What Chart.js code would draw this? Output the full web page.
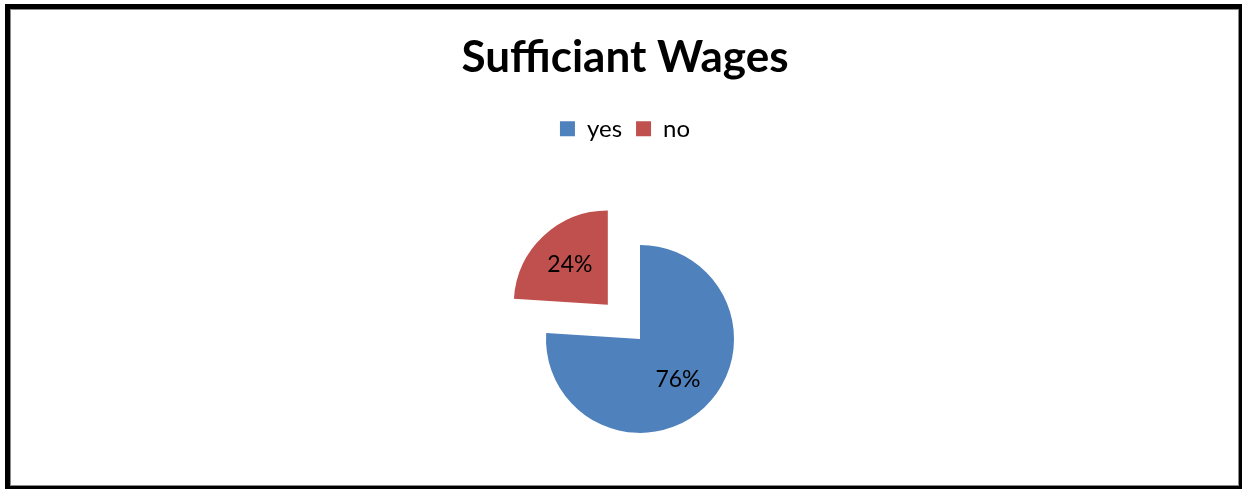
<!DOCTYPE html>
<html>
<head>
<meta charset="utf-8">
<title>Sufficiant Wages</title>
<script src="https://cdn.jsdelivr.net/npm/chart.js@4.4.1/dist/chart.umd.min.js"></script>
<style>
    html, body {
        margin: 0;
        padding: 0;
        background: #fff;
        overflow: hidden;
    }
    .frame {
        position: absolute;
        left: 5px;
        top: 4px;
        width: 1239px;
        height: 487px;
        box-sizing: border-box;
        border: 5px solid #000;
        box-shadow: inset 0 0 0 1px #8a8a8a;
    }
    #wrap {
        position: absolute;
        left: 0;
        top: 0;
        width: 1242px;
        height: 489px;
    }
</style>
</head>
<body>
<div class="frame"></div>
<div id="wrap"><canvas id="wagesChart" width="1242" height="489"></canvas></div>
<script>
const answers = ['yes', 'no'];
const shares = [76, 24];
const sliceColors = ['#4F81BD', '#C0504D'];
const explode = [0, 188];

// pie sits off-centre in the chart, like a manually placed Excel plot area
const plotAreaShift = {
    id: 'plotAreaShift',
    afterLayout(chart, args, opts) {
        const area = chart.chartArea;
        area.left += opts.left || 0;
        area.top += opts.top || 0;
        area.width = area.right - area.left;
        area.height = area.bottom - area.top;
    }
};

// percentage labels inside each slice
const sliceLabels = {
    id: 'sliceLabels',
    afterDatasetsDraw(chart, args, opts) {
        const ctx = chart.ctx;
        const meta = chart.getDatasetMeta(0);
        ctx.save();
        ctx.font = opts.font;
        ctx.fillStyle = opts.color;
        ctx.textAlign = 'center';
        ctx.textBaseline = 'middle';
        meta.data.forEach(function (arc, i) {
            const p = arc.getProps(['x', 'y', 'startAngle', 'endAngle', 'outerRadius'], true);
            const mid = (p.startAngle + p.endAngle) / 2;
            const dist = (arc.options.offset || 0) / 4 + p.outerRadius * opts.position;
            ctx.fillText(shares[i] + '%', p.x + Math.cos(mid) * dist, p.y + Math.sin(mid) * dist);
        });
        ctx.restore();
    }
};

const data = {
    labels: answers,
    datasets: [{
        data: shares,
        backgroundColor: sliceColors,
        borderWidth: 0,
        offset: explode,
        hoverOffset: 0
    }]
};

const config = {
    type: 'pie',
    data: data,
    options: {
        responsive: false,
        animation: false,
        events: [],
        radius: 94,
        layout: {
            padding: { left: 8, top: 8, right: 0, bottom: 0 }
        },
        plugins: {
            title: {
                display: true,
                text: 'Sufficiant Wages',
                color: '#000',
                font: { family: 'Lato', size: 44, weight: 'bold', lineHeight: 1.2 },
                padding: { top: 23, bottom: 19 }
            },
            legend: {
                display: true,
                position: 'top',
                labels: {
                    color: '#000',
                    font: { family: 'Lato', size: 24 },
                    boxWidth: 15,
                    boxHeight: 15,
                    padding: 14
                }
            },
            tooltip: { enabled: false },
            plotAreaShift: { left: 30, top: 38 },
            sliceLabels: { font: '23px Lato', color: '#000', position: 0.59 }
        }
    },
    plugins: [plotAreaShift, sliceLabels]
};

const wagesChart = new Chart(document.getElementById('wagesChart'), config);
</script>
</body>
</html>
